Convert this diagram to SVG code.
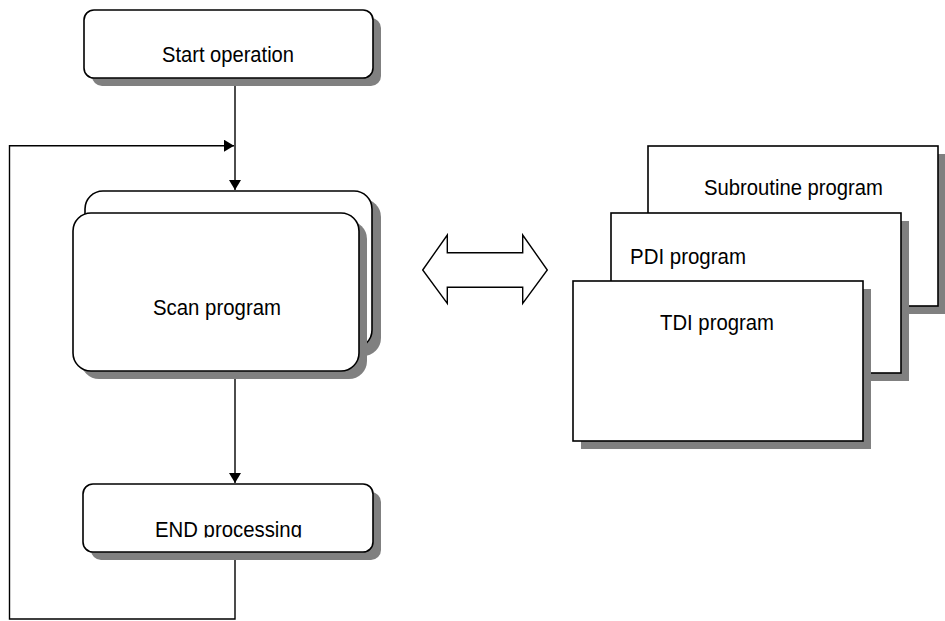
<svg xmlns="http://www.w3.org/2000/svg" width="945" height="621" viewBox="0 0 945 621">
<style>
.box{fill:#fff;stroke:#000;stroke-width:1.6}
.sh{fill:#808080;stroke:none}
.ln{fill:none;stroke:#000;stroke-width:1.4}
.t{font-family:"Liberation Sans",Arial,sans-serif;font-size:22px;fill:#000}
</style>
<defs>
<marker id="ah" markerWidth="10" markerHeight="12" refX="10" refY="6" orient="auto" markerUnits="userSpaceOnUse">
<path d="M0,0 L10,6 L0,12 Z" fill="#000"/>
</marker>
<clipPath id="endclip"><rect x="80" y="480" width="300" height="57.5"/></clipPath>
</defs>
<rect width="945" height="621" fill="#fff"/>

<g id="connectors">
<path class="ln" d="M235,78 V190" marker-end="url(#ah)"/>
<path class="ln" d="M235,552 V619 H9.5 V145.7 H234" marker-end="url(#ah)"/>
<path class="ln" d="M235,371 V483" marker-end="url(#ah)"/>
</g>

<g id="start">
<rect class="sh" x="92" y="18" width="289" height="68" rx="10"/>
<rect class="box" x="84" y="10" width="289" height="68" rx="10"/>
<text class="t" x="162" y="62" font-size="23" textLength="132" lengthAdjust="spacingAndGlyphs">Start operation</text>
</g>

<g id="scan">
<rect class="sh" x="93" y="199" width="288" height="157" rx="18"/>
<rect class="box" x="85" y="191" width="287" height="157" rx="18"/>
<rect class="sh" x="81" y="221" width="286" height="158" rx="18"/>
<rect class="box" x="73" y="213" width="286" height="158" rx="18"/>
<text class="t" x="153" y="315" textLength="128" lengthAdjust="spacingAndGlyphs">Scan program</text>
</g>

<g id="end">
<rect class="sh" x="91" y="492" width="290" height="68" rx="10"/>
<rect class="box" x="83" y="484" width="290" height="68" rx="10"/>
<text class="t" x="155" y="537" textLength="147" lengthAdjust="spacingAndGlyphs" clip-path="url(#endclip)">END processing</text>
</g>

<g id="exchange">
<polygon class="box" style="stroke-width:1.4" points="422.7,270 447.3,235 447.3,252.7 522.7,252.7 522.7,235 547.3,270 522.7,303.3 522.7,287.3 447.3,287.3 447.3,303.3"/>
</g>

<g id="subroutine">
<rect class="sh" x="656" y="154" width="290" height="160"/>
<rect class="box" x="648" y="146" width="290" height="160"/>
<text class="t" x="704" y="195" textLength="179" lengthAdjust="spacingAndGlyphs">Subroutine program</text>
</g>

<g id="pdi">
<rect class="sh" x="619" y="221" width="290" height="160"/>
<rect class="box" x="611" y="213" width="290" height="160"/>
<text class="t" x="630" y="263.5" textLength="116" lengthAdjust="spacingAndGlyphs">PDI program</text>
</g>

<g id="tdi">
<rect class="sh" x="581" y="289" width="290" height="160"/>
<rect class="box" x="573" y="281" width="290" height="160"/>
<text class="t" x="660" y="329.5" textLength="114" lengthAdjust="spacingAndGlyphs">TDI program</text>
</g>
</svg>
